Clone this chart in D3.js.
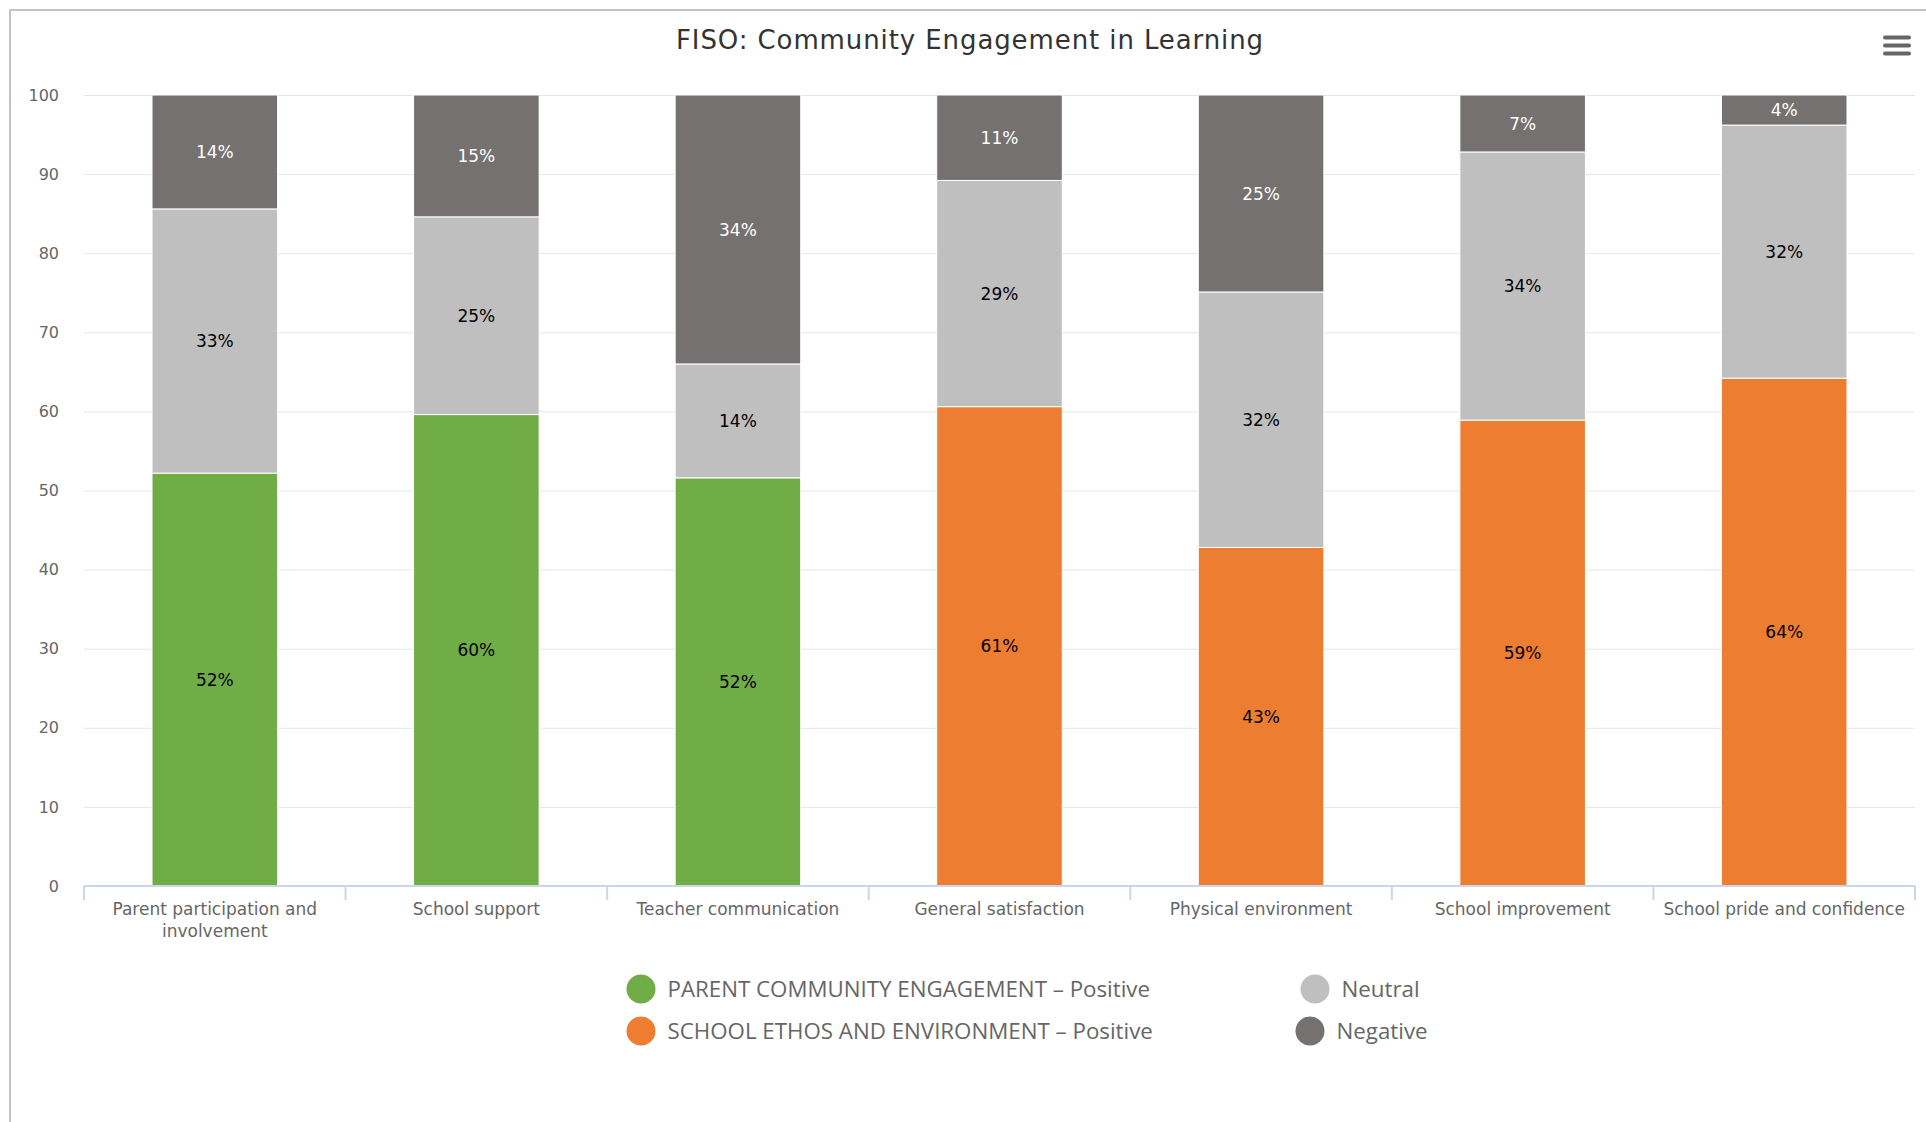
<!DOCTYPE html>
<html>
<head>
<meta charset="utf-8">
<script src="https://cdn.jsdelivr.net/npm/d3@7"></script>
<style>
  html, body { margin: 0; padding: 0; background: #fff; }
  #chart { width: 1926px; height: 1122px; }
</style>
</head>
<body>
<div id="chart"></div>
<script>
// ---- data (percent of responses, each bar stacks to 100) ----
const categories = [
  "Parent participation and involvement",
  "School support",
  "Teacher communication",
  "General satisfaction",
  "Physical environment",
  "School improvement",
  "School pride and confidence"
];
// which "Positive" series each category belongs to
const positiveGroup = ["parent", "parent", "parent", "school", "school", "school", "school"];
const positive = [52.2, 59.6, 51.6, 60.6, 42.8, 58.9, 64.2];
const neutral  = [33.4, 25.0, 14.4, 28.6, 32.3, 33.9, 32.0];
const negative = [14.4, 15.4, 34.0, 10.8, 24.9,  7.2,  3.8];
const yTicks   = [0, 10, 20, 30, 40, 50, 60, 70, 80, 90, 100];

const legendItems = [
  { key: "parent",   label: "PARENT COMMUNITY ENGAGEMENT \u2013 Positive" },
  { key: "neutral",  label: "Neutral" },
  { key: "school",   label: "SCHOOL ETHOS AND ENVIRONMENT \u2013 Positive" },
  { key: "negative", label: "Negative" }
];

const COLORS = {
  parent:   "#70ad47",
  school:   "#ed7d31",
  neutral:  "#bfbfbf",
  negative: "#757170"
};

const AXIS_FONT  = "'DejaVu Sans', Verdana, sans-serif";
const LEGEND_FONT = "'Open Sans', sans-serif";

const W = 1926, H = 1122;
const margin = { top: 95, right: 11, bottom: 236, left: 84 };
const iW = W - margin.left - margin.right;
const iH = H - margin.top - margin.bottom;

const svg = d3.select("#chart").append("svg")
  .attr("width", W).attr("height", H)
  .attr("viewBox", `0 0 ${W} ${H}`);

// container frame — only top and left edges are visible in the shot
svg.append("rect")
  .attr("x", 10).attr("y", 10)
  .attr("width", W + 20).attr("height", H + 20)
  .attr("fill", "#fff")
  .attr("stroke", "#c4c4c4").attr("stroke-width", 2);

// title
svg.append("text")
  .attr("x", 970).attr("y", 49)
  .attr("text-anchor", "middle")
  .attr("font-family", AXIS_FONT)
  .attr("font-size", 26)
  .attr("letter-spacing", 0.9)
  .attr("fill", "#333")
  .text("FISO: Community Engagement in Learning");

// hamburger (export menu) icon
svg.append("g").selectAll("line")
  .data([37.5, 45.5, 53.5])
  .join("line")
    .attr("x1", 1885).attr("x2", 1909)
    .attr("y1", d => d).attr("y2", d => d)
    .attr("stroke", "#666").attr("stroke-width", 4)
    .attr("stroke-linecap", "round");

const g = svg.append("g").attr("transform", `translate(${margin.left},${margin.top})`);

// one slot per category, ticks sit at slot edges
const x = d3.scaleBand().domain(categories).range([0, iW]).paddingInner(0.52).paddingOuter(0.26);
const y = d3.scaleLinear().domain([0, 100]).range([iH, 0]);

// gridlines
g.append("g")
  .call(d3.axisLeft(y).tickValues(yTicks).tickSize(-iW).tickFormat(""))
  .call(a => a.select(".domain").remove())
  .call(a => a.selectAll(".tick line").attr("stroke", "#e6e6e6"));

// y labels
g.append("g")
  .call(d3.axisLeft(y).tickValues(yTicks).tickSize(0).tickPadding(25))
  .call(a => a.select(".domain").remove())
  .call(a => a.selectAll("text")
    .attr("fill", "#666")
    .attr("font-family", AXIS_FONT)
    .attr("font-size", 16));

// stack: positive at bottom, then neutral, then negative
const rows = categories.map((c, i) => ({
  cat: c, group: positiveGroup[i],
  positive: positive[i], neutral: neutral[i], negative: negative[i]
}));
const stacked = d3.stack().keys(["positive", "neutral", "negative"])(rows);

const layers = g.selectAll(".layer")
  .data(stacked)
  .join("g").attr("class", "layer");

layers.selectAll("rect")
  .data(d => d.map(pt => ({ ...pt, key: d.key })))
  .join("rect")
    .attr("x", d => x(d.data.cat))
    .attr("width", x.bandwidth())
    .attr("y", d => y(d[1]))
    .attr("height", d => Math.max(0, y(d[0]) - y(d[1])))
    .attr("fill", d => d.key === "positive" ? COLORS[d.data.group] : COLORS[d.key])
    .attr("stroke", "#fff").attr("stroke-width", 1);

// value labels centred in each segment
layers.selectAll("text")
  .data(d => d.map(pt => ({ ...pt, key: d.key })))
  .join("text")
    .attr("x", d => x(d.data.cat) + x.bandwidth() / 2)
    .attr("y", d => (y(d[0]) + y(d[1])) / 2)
    .attr("dy", "0.36em")
    .attr("text-anchor", "middle")
    .attr("font-family", AXIS_FONT)
    .attr("font-size", 17)
    .attr("fill", d => d.key === "negative" ? "#fff" : "#000")
    .text(d => `${Math.round(d.data[d.key])}%`);

// x axis: line + ticks at band edges
const edges = d3.range(categories.length + 1).map(i => i * x.step());
const xAxis = g.append("g").attr("transform", `translate(0,${iH})`);
xAxis.append("line")
  .attr("x1", 0).attr("x2", iW)
  .attr("stroke", "#ccd6eb").attr("stroke-width", 2);
xAxis.selectAll(".edge")
  .data(edges)
  .join("line")
    .attr("x1", d => d).attr("x2", d => d)
    .attr("y1", 0).attr("y2", 14)
    .attr("stroke", "#ccd6eb").attr("stroke-width", 2);

// category labels, wrapped like the original
const wrapW = x.step() - 14;
xAxis.selectAll(".cat")
  .data(categories)
  .join("text")
    .attr("x", d => x(d) + x.bandwidth() / 2)
    .attr("y", 29)
    .attr("text-anchor", "middle")
    .attr("font-family", AXIS_FONT)
    .attr("font-size", 17)
    .attr("fill", "#666")
    .each(function(d) {
      const el = d3.select(this);
      const words = d.split(" ");
      let line = [];
      let tspan = el.append("tspan").attr("x", el.attr("x")).attr("dy", 0);
      words.forEach(w => {
        line.push(w);
        tspan.text(line.join(" "));
        if (tspan.node().getComputedTextLength() > wrapW && line.length > 1) {
          line.pop();
          tspan.text(line.join(" "));
          line = [w];
          tspan = el.append("tspan").attr("x", el.attr("x")).attr("dy", 22).text(w);
        }
      });
    });

// legend — two columns, two rows
const legendCols = [641, 1315];
const legendRows = [989, 1031];
const lg = svg.append("g");
const li = lg.selectAll(".item")
  .data(legendItems)
  .join("g")
    .attr("transform", (d, i) => `translate(${legendCols[i % 2] - (i === 3 ? 5 : 0)},${legendRows[Math.floor(i / 2)]})`);
li.append("circle")
  .attr("r", 14.5)
  .attr("fill", d => COLORS[d.key]);
li.append("text")
  .attr("x", 26.5).attr("y", 7.5)
  .attr("font-family", LEGEND_FONT)
  .attr("font-size", 22.3)
  .attr("fill", "#666")
  .text(d => d.label);
</script>
</body>
</html>
